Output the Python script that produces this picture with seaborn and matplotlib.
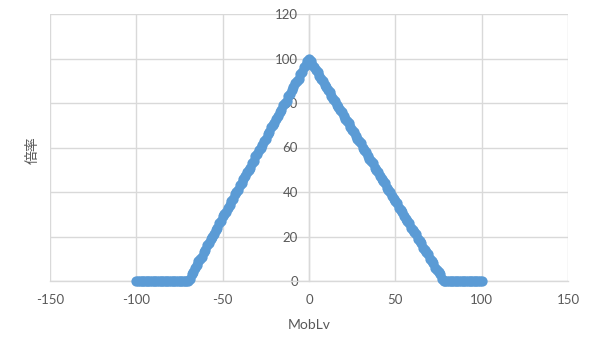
import numpy as np
import pandas as pd
import matplotlib
matplotlib.use("Agg")
import matplotlib.pyplot as plt
import seaborn as sns

# MobLv sample points
mob_lv = list(range(-100, 101))
# multiplier (倍率)
left_zero = [0] * 30                       # -100 .. -71
left_slope = [0, 1, 3, 4, 6, 7, 9, 10, 11, 13, 14, 16, 17, 19, 20, 21, 23, 24, 26, 27,
              29, 30, 31, 33, 34, 36, 37, 39, 40, 41, 43, 44, 46, 47, 49, 50, 51, 53, 54, 56,
              57, 59, 60, 61, 63, 64, 66, 67, 69, 70, 71, 73, 74, 76, 77, 79, 80, 81, 83, 84,
              86, 87, 89, 90, 91, 93, 94, 96, 97, 99]   # -70 .. -1
peak = [100]                               # 0
right_slope = [99, 97, 96, 95, 94, 92, 91, 90, 88, 87, 86, 85, 83, 82, 81, 79, 78, 77, 76, 74,
               73, 72, 71, 69, 68, 67, 65, 64, 63, 62, 60, 59, 58, 56, 55, 54, 53, 51, 50, 49,
               47, 46, 45, 44, 42, 41, 40, 38, 37, 36, 35, 33, 32, 31, 29, 28, 27, 26, 24, 23,
               22, 21, 19, 18, 17, 15, 14, 13, 12, 10, 9, 8, 6, 5, 4, 3, 1, 0]  # 1 .. 78
right_zero = [0] * 22                      # 79 .. 100
rate = left_zero + left_slope + peak + right_slope + right_zero

x_ticks = [-150, -100, -50, 0, 50, 100, 150]
y_ticks = [0, 20, 40, 60, 80, 100, 120]

df = pd.DataFrame({"MobLv": mob_lv, "rate": rate})

sns.set_theme(style="white")
plt.rcParams["font.family"] = ["Lato", "Noto Sans CJK JP", "DejaVu Sans"]
plt.rcParams["axes.unicode_minus"] = False

W, H = 592, 353
fig = plt.figure(figsize=(W / 100, H / 100), dpi=100)
ax = fig.add_axes([50 / W, 1 - 281 / H, (568 - 50) / W, (281 - 14) / H])

grid_c = "#d9d9d9"
text_c = "#595959"

sns.scatterplot(data=df, x="MobLv", y="rate", ax=ax, color="#5b9bd5",
                s=55, linewidth=0, zorder=3, clip_on=False)

ax.set_xlim(-150, 150)
ax.set_ylim(0, 120)
ax.set_xticks(x_ticks)
ax.set_yticks(y_ticks)
ax.grid(True, color=grid_c, linewidth=1)
ax.set_axisbelow(True)

for s in ["top", "right"]:
    ax.spines[s].set_visible(False)
ax.spines["left"].set_position(("data", 0))
ax.spines["left"].set_color(grid_c)
ax.spines["bottom"].set_color(grid_c)
ax.spines["bottom"].set_linewidth(1)
ax.spines["left"].set_linewidth(1)

ax.tick_params(axis="both", length=0, labelsize=9.5, colors=text_c)
ax.tick_params(axis="x", pad=9)
ax.tick_params(axis="y", pad=8)

ax.set_xlabel("MobLv", fontsize=10, color=text_c, labelpad=10)
ax.set_ylabel("")
fig.text(33 / W, 1 - 150 / H, "倍率", rotation=90, ha="center", va="center",
         fontsize=10, color=text_c, family=["Noto Sans CJK JP", "DejaVu Sans"])

fig.savefig("out.png", dpi=100)
